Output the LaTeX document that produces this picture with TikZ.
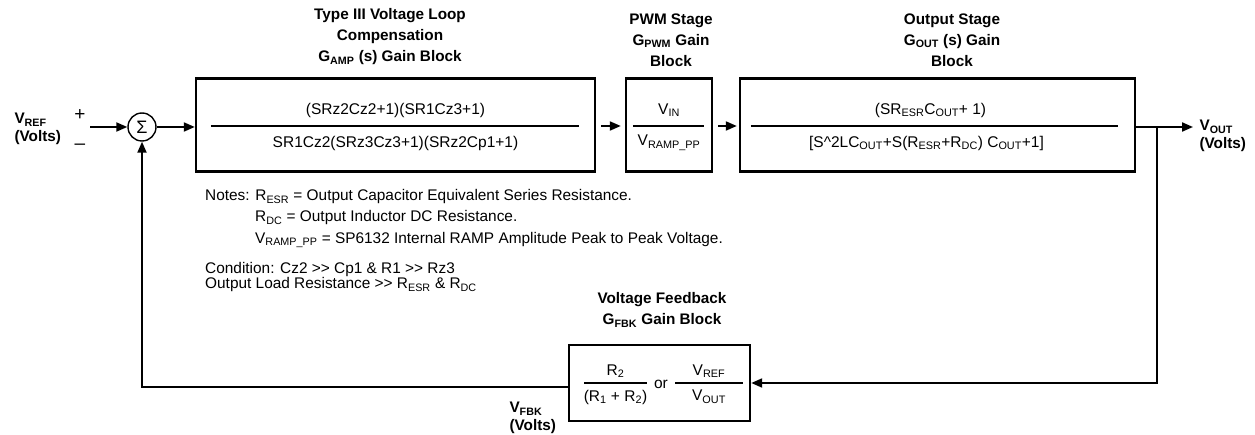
\documentclass[tikz,border=0pt]{standalone}
\usepackage{fontspec}
\setmainfont{Liberation Sans}
\usetikzlibrary{arrows.meta, positioning, calc}
\newcommand{\ssub}[1]{\textsubscript{#1}}
\newcommand{\muchgt}{>{}>}
\tikzset{
  gblock/.style={rectangle, draw, line width=2.4pt, inner sep=0pt,
                 minimum height=93pt},
  sumnode/.style={circle, draw, line width=1.4pt, inner sep=0pt,
                  minimum size=28pt, font=\fontsize{18}{18}\selectfont},
  ttl/.style={font=\fontsize{15.3}{21}\selectfont\bfseries, align=center},
  lbl/.style={font=\fontsize{15.3}{18}\selectfont\bfseries, align=left, anchor=west},
  txt/.style={font=\fontsize{15.5}{17}\selectfont, inner sep=0pt},
  note/.style={font=\fontsize{15.4}{15.5}\selectfont, anchor=west, inner sep=0pt, align=left},
  fracline/.style={line width=1.4pt},
  arr/.style={-{Triangle[length=11pt, width=9pt]}, line width=2pt},
}
\begin{document}
\begin{tikzpicture}[x=1pt, y=-1pt]
\useasboundingbox (0,0) rectangle (1255,435);

% gain blocks
\node[gblock, minimum width=399pt] (amp) at (395.5,125) {};
\node[gblock, minimum width=86pt] (pwm) at (669,125) {};
\node[gblock, minimum width=395pt] (gout) at (937.5,125) {};
\node[gblock, minimum width=181pt, minimum height=76pt] (fbk) at (659.5,383) {};
\node[sumnode] (sum) at (142,127) {Σ};

% block titles
\node[ttl] (ampttl) at (390,37) {Type III Voltage Loop\\Compensation\\G\ssub{AMP} (s) Gain Block};
\node[ttl] (pwmttl) at (671,40) {PWM Stage\\G\ssub{PWM} Gain\\Block};
\node[ttl] (outttl) at (952,40) {Output Stage\\G\ssub{OUT} (s) Gain\\Block};
\node[ttl] (fbkttl) at (662,310) {Voltage Feedback\\G\ssub{FBK} Gain Block};

% transfer functions
\draw[fracline] ($(amp.west)+(16,1)$) -- ($(amp.east)+(-17,1)$);
\node[txt] (ampnum) at ($(amp.center)+(0,-15)$) {(SRz2Cz2+1)(SR1Cz3+1)};
\node[txt] (ampden) at ($(amp.center)+(0,18)$) {SR1Cz2(SRz3Cz3+1)(SRz2Cp1+1)};

\draw[fracline] ($(pwm.west)+(8,1)$) -- ($(pwm.east)+(-9,1)$);
\node[txt] (pwmnum) at ($(pwm.center)+(0,-15)$) {V\ssub{IN}};
\node[txt] (pwmden) at ($(pwm.center)+(0,18)$) {V\ssub{RAMP\_PP}};

\draw[fracline] ($(gout.west)+(12,1)$) -- ($(gout.east)+(-18,1)$);
\node[txt] (outnum) at ($(gout.center)+(-7,-15)$) {(SR\ssub{ESR}C\ssub{OUT}+ 1)};
\node[txt] (outden) at ($(gout.center)+(-11,18)$) {[S\textasciicircum 2LC\ssub{OUT}+S(R\ssub{ESR}+R\ssub{DC}) C\ssub{OUT}+1]};

\draw[fracline] (584,383) -- (647,383);
\node[txt] (fbknum) at (615.5,371) {R\ssub{2}};
\node[txt] (fbkden) at (615.5,397) {(R\ssub{1} + R\ssub{2})};
\node[txt] (fbkor) at (661,384) {or};
\draw[fracline] (675,383) -- (743,383);
\node[txt] (fbkref) at (709,371) {V\ssub{REF}};
\node[txt] (fbkout) at (709,397) {V\ssub{OUT}};

% signal labels
\node[lbl] (vref) at (11,129) {V\ssub{REF}\\(Volts)};
\node[txt, font=\fontsize{19}{19}\selectfont] (plus) at (80,115) {+};
\node[txt, font=\fontsize{19}{19}\selectfont] (minus) at (80,147) {\textendash};
\node[lbl] (vout) at (1196,136) {V\ssub{OUT}\\(Volts)};
\node[lbl] (vfbk) at (506,418) {V\ssub{FBK}\\(Volts)};

% notes
\node[note] (n1) at (205,197) {Notes: R\ssub{ESR} = Output Capacitor Equivalent Series Resistance.};
\node[note] (n2) at (255,218) {R\ssub{DC} = Output Inductor DC Resistance.};
\node[note] (n3) at (255,240) {V\ssub{RAMP\_PP} = SP6132 Internal RAMP Amplitude Peak to Peak Voltage.};
\node[note] (n4) at (205,277) {Condition: Cz2 \muchgt{} Cp1 \& R1 \muchgt{} Rz3\\Output Load Resistance \muchgt{} R\ssub{ESR} \& R\ssub{DC}};

% forward path
\coordinate (in) at (90,127);
\coordinate (outtip) at (1193,127);
\coordinate (tap) at (1157,127);
\draw[arr] (in) -- (sum.west);
\draw[arr] (sum.east) -- (sum.east -| amp.west);
\draw[arr, shorten <=5pt, shorten >=4pt] (amp.east |- 0,126) -- (pwm.west |- 0,126);
\draw[arr, shorten <=5pt, shorten >=2pt] (pwm.east |- 0,126) -- (gout.west |- 0,126);
\draw[arr] (gout.east |- outtip) -- (outtip);

% feedback path
\draw[arr] (tap) |- (fbk.east);
\draw[arr] (fbk.west |- 0,387) -| (sum.south);
\end{tikzpicture}
\end{document}
